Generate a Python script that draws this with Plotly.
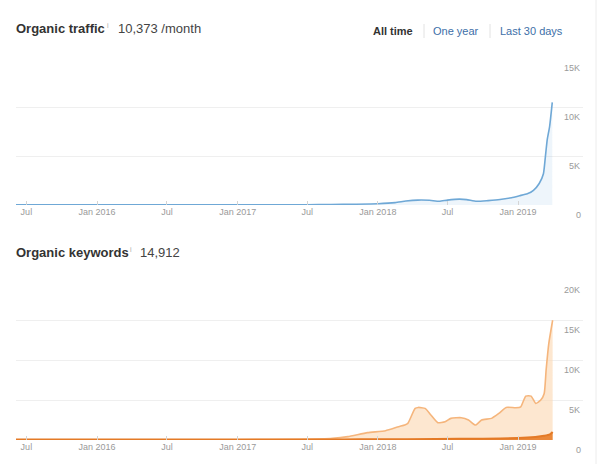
import plotly.graph_objects as go

# ---- data ----
traffic_dates = ["2015-06-04", "2016-06-01", "2017-01-01", "2017-07-01", "2017-09-01", "2017-11-01",
                 "2018-01-01", "2018-02-15", "2018-03-15", "2018-04-15", "2018-05-15", "2018-06-10",
                 "2018-07-01", "2018-08-01", "2018-08-20", "2018-09-15", "2018-10-15", "2018-11-15",
                 "2018-12-15", "2019-01-05", "2019-01-25", "2019-02-10", "2019-02-25", "2019-03-08",
                 "2019-03-13", "2019-03-18", "2019-03-24", "2019-03-31"]
traffic_values = [10, 15, 20, 30, 50, 80,
                  130, 240, 400, 500, 480, 380,
                  500, 600, 550, 380, 450, 560,
                  750, 950, 1150, 1500, 2200, 3200,
                  4900, 6700, 8000, 10500]

kw_dates = ["2015-06-04", "2016-06-01", "2017-01-01", "2017-06-15", "2017-09-05", "2017-10-15",
            "2017-12-05", "2018-01-21", "2018-02-24", "2018-03-12", "2018-03-20", "2018-04-08",
            "2018-04-16", "2018-05-04", "2018-05-19", "2018-06-06", "2018-06-25", "2018-07-10",
            "2018-08-06", "2018-08-25", "2018-09-12", "2018-09-28", "2018-10-24", "2018-11-12",
            "2018-12-01", "2018-12-26", "2019-01-08", "2019-01-21", "2019-02-04", "2019-02-16",
            "2019-03-01", "2019-03-10", "2019-03-15", "2019-03-22", "2019-04-01"]
kw_values = [20, 30, 40, 80, 200, 420,
             920, 1170, 1670, 1875, 2080, 3960,
             4080, 3960, 3125, 2170, 2290, 2710,
             2790, 2500, 1875, 2500, 2710, 3330,
             4080, 4040, 4160, 5500, 5500, 4580,
             5000, 5830, 8750, 12100, 15000]

top_dates = ["2015-06-04", "2017-01-01", "2017-10-01", "2018-01-01", "2018-06-01", "2018-10-01",
             "2019-01-01", "2019-02-15", "2019-03-10", "2019-03-25", "2019-04-01"]
top_values = [60, 60, 70, 90, 120, 170,
              250, 380, 520, 700, 1000]

tick_vals = ["2015-07-01", "2016-01-01", "2016-07-01", "2017-01-01", "2017-07-01",
             "2018-01-01", "2018-07-01", "2019-01-01"]
tick_text = ["Jul", "Jan 2016", "Jul", "Jan 2017", "Jul", "Jan 2018", "Jul", "Jan 2019"]

traffic_y_ticks = [0, 5000, 10000, 15000]
traffic_y_text = ["0", "5K", "10K", "15K"]
kw_y_ticks = [0, 5000, 10000, 15000, 20000]
kw_y_text = ["0", "5K", "10K", "15K", "20K"]

FONT = "Liberation Sans, Arial, sans-serif"
TICK_COLOR = "#9a9a9a"
GRID = "#efefef"

fig = go.Figure()

fig.add_trace(go.Scatter(x=traffic_dates, y=traffic_values, mode="lines",
                         line=dict(color="#6fa8d6", width=1.6, shape="spline", smoothing=0.5),
                         fill="tozeroy", fillcolor="rgba(120,180,225,0.13)",
                         xaxis="x", yaxis="y", hoverinfo="skip"))

fig.add_trace(go.Scatter(x=kw_dates, y=kw_values, mode="lines",
                         line=dict(color="#f5b57c", width=1.6, shape="spline", smoothing=0.5),
                         fill="tozeroy", fillcolor="rgba(252,215,176,0.6)",
                         xaxis="x2", yaxis="y2", hoverinfo="skip"))

fig.add_trace(go.Scatter(x=top_dates, y=top_values, mode="lines",
                         line=dict(color="#e47a26", width=2, shape="spline", smoothing=0.5),
                         fill="tozeroy", fillcolor="rgba(232,125,40,0.9)",
                         xaxis="x2", yaxis="y2", hoverinfo="skip"))

x_range = ["2015-06-04", "2019-06-19"]
xcommon = dict(type="date", range=x_range, tickmode="array", tickvals=tick_vals, ticktext=tick_text,
               ticks="inside", ticklen=4, tickcolor="#d5d5d5", showgrid=False, showline=False,
               zeroline=False, tickfont=dict(family=FONT, size=9, color=TICK_COLOR), fixedrange=True)

ycommon = dict(side="right", ticklabelposition="inside", ticklabelshift=10,
               showgrid=True, gridcolor=GRID, gridwidth=1, zeroline=False, showline=False,
               ticks="", tickfont=dict(family=FONT, size=9, color=TICK_COLOR), fixedrange=True)

fig.update_layout(
    width=600, height=464,
    margin=dict(l=16, r=17, t=58, b=24),
    paper_bgcolor="white", plot_bgcolor="white",
    showlegend=False,
    xaxis=dict(domain=[0, 1], anchor="y", **xcommon),
    yaxis=dict(domain=[0.6152, 1.0], anchor="x", range=[0, 15030],
               tickvals=traffic_y_ticks, ticktext=traffic_y_text, **ycommon),
    xaxis2=dict(domain=[0, 1], anchor="y2", **xcommon),
    yaxis2=dict(domain=[0, 0.4188], anchor="x2", range=[0, 20040],
                tickvals=kw_y_ticks, ticktext=kw_y_text, **ycommon),
)

def px_x(p):
    return (p - 16) / 567.0

def px_y(p):
    return (440 - p) / 382.0

ann = []
def txt(x, y, s, size, color, bold=False, xanchor="left"):
    ann.append(dict(x=px_x(x - 2), y=px_y(y), xref="paper", yref="paper", text=("<b>%s</b>" % s) if bold else s,
                    showarrow=False, xanchor=xanchor, yanchor="middle",
                    font=dict(family=FONT, size=size, color=color)))

txt(16, 29, "Organic traffic", 13, "#333333", bold=True)
txt(107, 26, "i", 7, "#aaaaaa")
txt(118, 29, "10,373 /month", 13, "#444444")
txt(373, 31, "All time", 11, "#333333", bold=True)
txt(433, 31, "One year", 11, "#3d6fa8")
txt(500, 31, "Last 30 days", 11, "#3d6fa8")

txt(16, 252, "Organic keywords", 13, "#333333", bold=True)
txt(130, 249, "i", 7, "#aaaaaa")
txt(140, 252, "14,912", 13, "#444444")

# zero labels below the baselines (inside tick labels at the edge are hidden by plotly)
for yref, lab in (("y", traffic_y_text[0]), ("y2", kw_y_text[0])):
    ann.append(dict(x=1.0, y=0, xref="paper", yref=yref, text=lab, showarrow=False,
                    xanchor="right", yanchor="middle", yshift=-10, xshift=0,
                    font=dict(family=FONT, size=9, color=TICK_COLOR)))

fig.update_layout(annotations=ann)

shapes = []
for sx in (424, 490):
    shapes.append(dict(type="line", xref="paper", yref="paper", x0=px_x(sx), x1=px_x(sx),
                       y0=px_y(24), y1=px_y(38), line=dict(color="#e2e2e2", width=1)))
shapes.append(dict(type="line", xref="paper", yref="paper", x0=px_x(596), x1=px_x(596),
                   y0=px_y(0), y1=px_y(464), line=dict(color="#ececec", width=1)))
fig.update_layout(shapes=shapes)

fig.write_html("out.html", config={"displayModeBar": False},
               post_script="document.body.style.margin='0';")
